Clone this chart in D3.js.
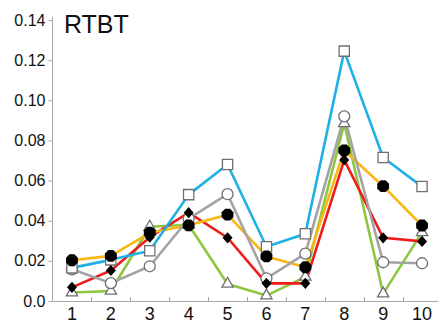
<!DOCTYPE html>
<html><head><meta charset="utf-8">
<script src="https://cdn.jsdelivr.net/npm/d3@7"></script>
<style>html,body{margin:0;padding:0;background:#fff;}svg{display:block;font-family:"Liberation Sans",Arial,sans-serif;}</style>
</head><body>
<svg id="c" width="438" height="325"></svg>
<script>
const categories = [1,2,3,4,5,6,7,8,9,10];
const blueSquare   = [0.0165,0.0205,0.025,0.053,0.068,0.027,0.0335,0.1245,0.0715,0.057];
const grayCircle   = [0.0158,0.0089,0.0173,0.041,0.0532,0.0113,0.0236,0.092,0.0193,0.0188];
const orangeHex    = [0.0203,0.0225,0.034,0.0377,0.043,0.0222,0.0168,0.075,0.0572,0.0376];
const redDiamond   = [0.0068,0.0152,0.0318,0.044,0.0315,0.0088,0.0088,0.0703,0.0315,0.0297];
const greenTri     = [0.0042,0.005,0.037,0.038,0.0085,0.0027,0.012,0.0885,0.0037,0.0342];
const yTicks = [0,0.02,0.04,0.06,0.08,0.10,0.12,0.14];
const yTickLabels = ["0.0","0.02","0.04","0.06","0.08","0.10","0.12","0.14"];
const title = "RTBT";

const svg = d3.select("#c");
const x = d3.scaleBand().domain(categories).range([52.5, 441.5]);
const y = d3.scaleLinear().domain([0,0.14]).range([301,20]);
const axisColor = "#a8a8a8";

// y axis
const ya = svg.append("g").attr("transform","translate(52.5,0)")
  .call(d3.axisLeft(y).tickValues(yTicks).tickFormat((d,i)=>yTickLabels[i]).tickSize(4).tickPadding(3));
ya.select(".domain").attr("stroke",axisColor).attr("d",`M0,${y(0)}V17`);
ya.selectAll(".tick line").attr("stroke",axisColor);
ya.selectAll(".tick text").attr("font-size",16).attr("fill","#111").attr("font-family","Liberation Sans, Arial, sans-serif");

// x axis
const xa = svg.append("g").attr("transform",`translate(0,${y(0)+0.5})`)
  .call(d3.axisBottom(x).tickSize(0).tickPadding(5.5));
xa.select(".domain").attr("stroke",axisColor).attr("d",`M52.5,0H438`);
xa.selectAll(".tick text").attr("font-size",18).attr("fill","#111").attr("font-family","Liberation Sans, Arial, sans-serif");
// tick marks between categories
categories.forEach(c=>{
  const xs = Math.round(x(c)+x.bandwidth())+0.5;
  if (xs < 438) svg.append("line").attr("x1",xs).attr("x2",xs).attr("y1",y(0)-4).attr("y2",y(0)+0.5).attr("stroke",axisColor);
});

svg.append("text").attr("x",64).attr("y",33).attr("font-size",25).attr("fill","#111").text(title);

const cx = c => x(c)+x.bandwidth()/2;
const series = [
  {vals:greenTri,   color:"#8cc83f", marker:"tri"},
  {vals:redDiamond, color:"#ee1b1b", marker:"diamond"},
  {vals:orangeHex,  color:"#f8b712", marker:"hex"},
  {vals:grayCircle, color:"#a3a3a3", marker:"circle"},
  {vals:blueSquare, color:"#1eb0e6", marker:"square"}
];
const line = d3.line().x((d,i)=>cx(categories[i])).y(d=>y(d));
series.forEach(s=>{
  svg.append("path").attr("d",line(s.vals)).attr("fill","none").attr("stroke",s.color).attr("stroke-width",2.6).attr("stroke-linejoin","round");
});

const sym = {
  tri: d3.symbol().type(d3.symbolTriangle).size(55),
  circle: d3.symbol().type(d3.symbolCircle).size(95),
  square: d3.symbol().type(d3.symbolSquare).size(105)
};
const order = ["tri","circle","square","hex","diamond"];
order.forEach(m=>{
  const s = series.find(q=>q.marker===m);
  const g = svg.append("g");
  s.vals.forEach((v,i)=>{
    const px = cx(categories[i]), py = y(v);
    if (m==="hex") {
      const r = 6.4;
      const pts = d3.range(8).map(k=>{const a=Math.PI/8+k*Math.PI/4;return [px+r*Math.cos(a),py+r*Math.sin(a)];});
      g.append("polygon").attr("points",pts.map(p=>p.join(",")).join(" ")).attr("fill","#000");
    } else if (m==="diamond") {
      const w = 5, h = 5.6;
      g.append("polygon").attr("points",`${px},${py-h} ${px+w},${py} ${px},${py+h} ${px-w},${py}`).attr("fill","#000");
    } else {
      g.append("path").attr("d",sym[m]()).attr("transform",`translate(${px},${py})`)
        .attr("fill","#fff").attr("stroke","#6f6f6f").attr("stroke-width",1.3);
    }
  });
});
</script>
</body></html>
